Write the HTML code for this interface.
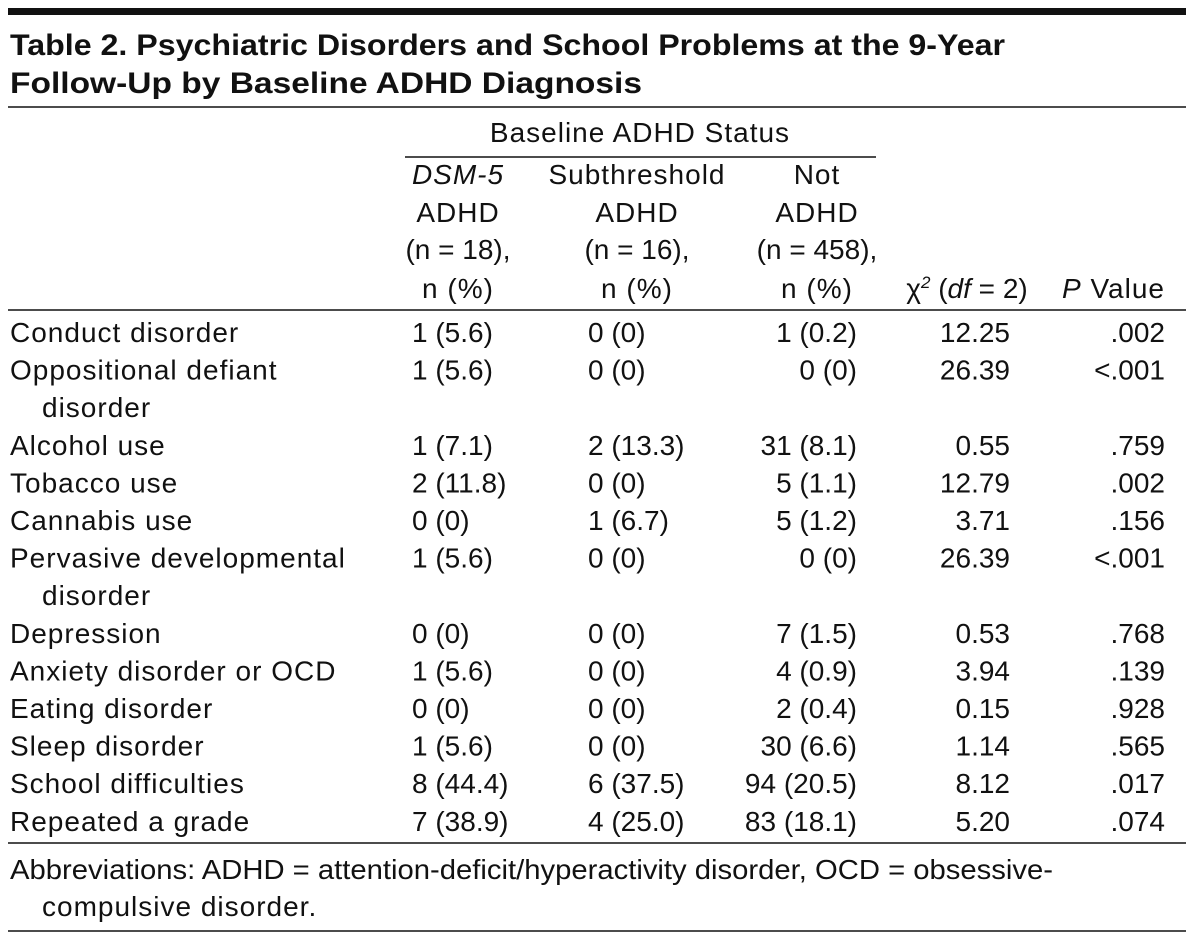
<!DOCTYPE html>
<html><head><meta charset="utf-8"><style>
body{margin:0;background:#fff}
svg{display:block}
text{font-family:"Liberation Sans",sans-serif;fill:#111}
.t{font-size:30px;font-weight:bold}
.b{font-size:28px}
.l{font-size:28px;letter-spacing:1px}
</style></head><body>
<svg width="1199" height="943" viewBox="0 0 1199 943">
<rect x="8" y="8" width="1178" height="7" fill="#111"/>
<text class="t" x="10" y="55" textLength="995" lengthAdjust="spacingAndGlyphs">Table 2. Psychiatric Disorders and School Problems at the 9-Year</text>
<text class="t" x="10" y="93" textLength="632" lengthAdjust="spacingAndGlyphs">Follow-Up by Baseline ADHD Diagnosis</text>
<line x1="8" y1="107" x2="1186" y2="107" stroke="#111" stroke-width="1.5"/>
<g>
<text class="l" x="640" y="142" text-anchor="middle">Baseline ADHD Status</text>
<line x1="405" y1="157" x2="876" y2="157" stroke="#111" stroke-width="1.5"/>
<text class="l" x="458" y="184" text-anchor="middle" font-style="italic">DSM-5</text>
<text class="l" x="458" y="222" text-anchor="middle">ADHD</text>
<text class="b" x="458" y="259" text-anchor="middle">(n = 18),</text>
<text class="l" x="458" y="298" text-anchor="middle">n (%)</text>
<text class="l" x="637" y="184" text-anchor="middle">Subthreshold</text>
<text class="l" x="637" y="222" text-anchor="middle">ADHD</text>
<text class="b" x="637" y="259" text-anchor="middle">(n = 16),</text>
<text class="l" x="637" y="298" text-anchor="middle">n (%)</text>
<text class="l" x="817" y="184" text-anchor="middle">Not</text>
<text class="l" x="817" y="222" text-anchor="middle">ADHD</text>
<text class="b" x="817" y="259" text-anchor="middle">(n = 458),</text>
<text class="l" x="817" y="298" text-anchor="middle">n (%)</text>
<text class="b" x="967" y="298" text-anchor="middle">χ<tspan font-size="17" dy="-10" font-style="italic">2</tspan><tspan dy="10"> (</tspan><tspan font-style="italic">df</tspan> = 2)</text>
<text class="l" x="1165" y="298" text-anchor="end"><tspan font-style="italic">P</tspan> Value</text>
</g>
<line x1="8" y1="310" x2="1186" y2="310" stroke="#111" stroke-width="1.5"/>
<g id="rows"></g>
<line x1="8" y1="843" x2="1186" y2="843" stroke="#111" stroke-width="1.5"/>
<text class="b" x="10" y="879" textLength="1043" lengthAdjust="spacingAndGlyphs">Abbreviations: ADHD = attention-deficit/hyperactivity disorder, OCD = obsessive-</text>
<text class="l" x="42" y="916">compulsive disorder.</text>
<line x1="8" y1="931" x2="1186" y2="931" stroke="#111" stroke-width="1.5"/>
</svg>
<script>
const labels=[["Conduct disorder"],["Oppositional defiant","disorder"],["Alcohol use"],["Tobacco use"],["Cannabis use"],["Pervasive developmental","disorder"],["Depression"],["Anxiety disorder or OCD"],["Eating disorder"],["Sleep disorder"],["School difficulties"],["Repeated a grade"]];
const dsm=["1 (5.6)","1 (5.6)","1 (7.1)","2 (11.8)","0 (0)","1 (5.6)","0 (0)","1 (5.6)","0 (0)","1 (5.6)","8 (44.4)","7 (38.9)"];
const sub=["0 (0)","0 (0)","2 (13.3)","0 (0)","1 (6.7)","0 (0)","0 (0)","0 (0)","0 (0)","0 (0)","6 (37.5)","4 (25.0)"];
const notAdhd=["1 (0.2)","0 (0)","31 (8.1)","5 (1.1)","5 (1.2)","0 (0)","7 (1.5)","4 (0.9)","2 (0.4)","30 (6.6)","94 (20.5)","83 (18.1)"];
const chi=["12.25","26.39","0.55","12.79","3.71","26.39","0.53","3.94","0.15","1.14","8.12","5.20"];
const pv=[".002","<.001",".759",".002",".156","<.001",".768",".139",".928",".565",".017",".074"];
const g=document.getElementById('rows');
const NS="http://www.w3.org/2000/svg";
function t(x,y,s,anchor,cls){const e=document.createElementNS(NS,'text');e.setAttribute('class',cls||'b');e.setAttribute('x',x);e.setAttribute('y',y);if(anchor)e.setAttribute('text-anchor',anchor);e.textContent=s;g.appendChild(e);return e;}
let y=342;
labels.forEach((l,i)=>{
  const a=t(10,y,l[0],null,'l');
  
  
  if(l[1]){const c=t(42,y+37.6,l[1],null,'l');}
  const c1=t(412,y,dsm[i]);
  const c2=t(588,y,sub[i]);
  const c3=t(857,y,notAdhd[i],'end');
  const c4=t(1010,y,chi[i],'end');
  const c5=t(1165,y,pv[i],'end');
  y+=37.6*(l.length);
});
</script>
</body></html>
